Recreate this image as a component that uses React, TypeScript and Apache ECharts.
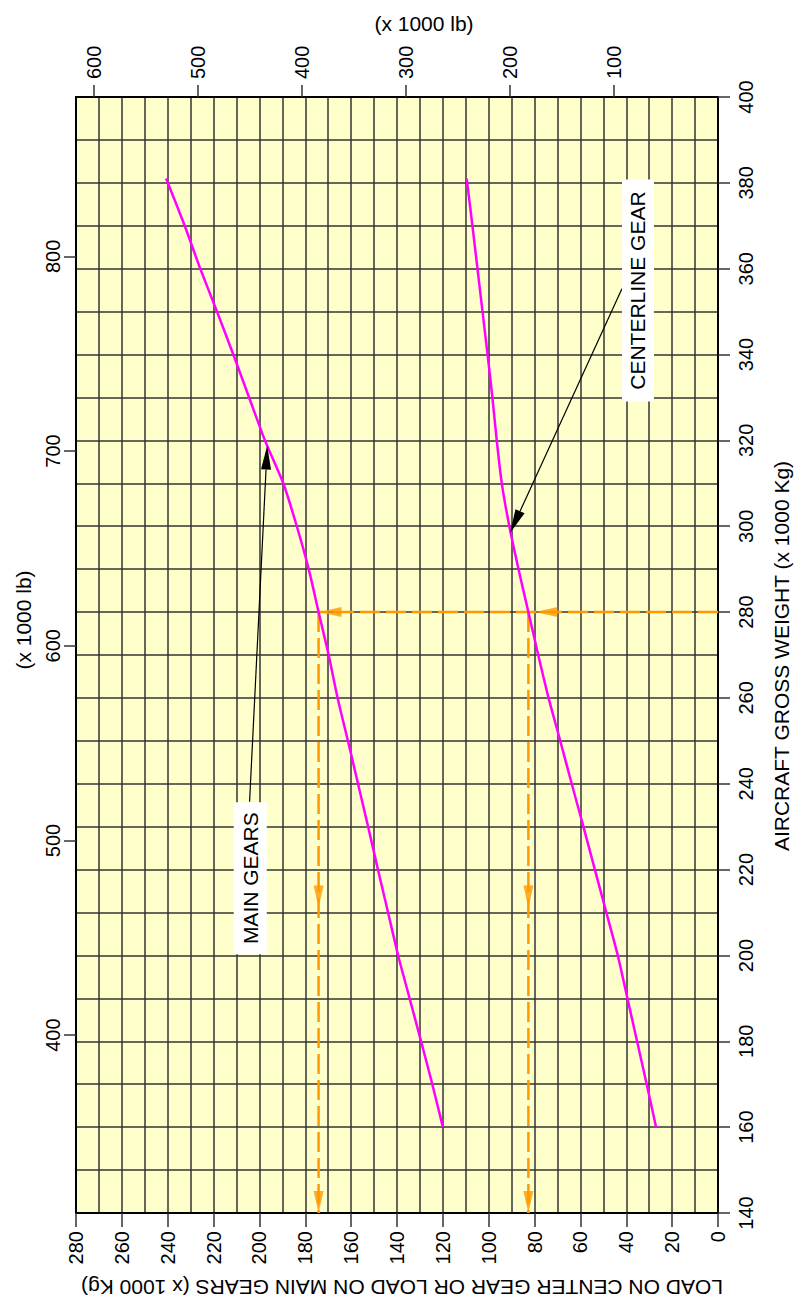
import React, { useEffect, useRef } from "react";
import * as echarts from "echarts";

// ---- data (x 1000 kg) ----
const KG_TO_LB = 2.20462;
const weightKg = [160, 170, 180, 190, 200, 210, 220, 230, 240, 250, 260, 270, 280, 290, 300, 310, 320, 330, 340, 350, 360, 370, 381];
const mainGearLoad = [120, 124.6, 129.5, 134.5, 139.5, 143.9, 148.3, 152.6, 157, 161.4, 165.9, 169.8, 174.2, 178.5, 183.7, 189.6, 197.6, 204.5, 211.4, 218.5, 225.8, 232.6, 240.7];
const centerGearLoad = [27, 31.1, 35.3, 39.5, 43.7, 48.7, 53.7, 58.7, 63.8, 68.8, 73.9, 78.4, 82.7, 87, 91, 94.3, 96.5, 98.4, 100.5, 102.7, 104.9, 107.1, 109.6];

const loadRange = [0, 280];
const weightRange = [140, 400];
const lbLoadTicks = [100, 200, 300, 400, 500, 600];
const lbWeightTicks = [400, 500, 600, 700, 800];

// example reading
const readWeight = 280;
const readMainLoad = 174.2;
const readCenterLoad = 82.7;
const arrowMidWeight = 211.2;

// annotations: [load, weight]
const mainLabelAt = [204, 218];
const centerLabelAt = [34.9, 354.9];
const mainArrow = [[204.3, 235.8], [196.6, 318.8]];
const centerArrow = [[41.9, 355.3], [90.7, 298.4]];

const FONT = '"Liberation Sans", Arial, Helvetica, sans-serif';
const GRIDC = "#333";
const ORANGE = "#FF9900";
const MAGENTA = "#FF00FF";

export default function App() {
  const ref = useRef<HTMLDivElement>(null);
  useEffect(() => {
    if (!ref.current) return;
    const chart = echarts.init(ref.current, null, { renderer: "svg" });
    const labelStyle = { rotate: 90, fontSize: 20, color: "#000", fontFamily: FONT };
    const option: any = {
      animation: false,
      grid: { left: 76, right: 76, top: 97, bottom: 97, show: true, backgroundColor: "#FFFFCC", borderColor: "#000", borderWidth: 2 },
      xAxis: [
        {
          type: "value", position: "bottom", min: loadRange[0], max: loadRange[1], interval: 20, inverse: true,
          axisLine: { show: true, onZero: false, lineStyle: { color: "#000", width: 2 } },
          axisTick: { show: true, length: 14, lineStyle: { color: GRIDC, width: 1.5 } },
          axisLabel: { ...labelStyle, margin: 18 },
          splitLine: { show: true, lineStyle: { color: GRIDC, width: 1.5 } },
          minorTick: { show: false, splitNumber: 2 },
          minorSplitLine: { show: true, lineStyle: { color: GRIDC, width: 1.5 } },
        },
        {
          type: "value", position: "top", min: loadRange[0] * KG_TO_LB, max: loadRange[1] * KG_TO_LB, inverse: true,
          axisLine: { show: true, onZero: false, lineStyle: { color: "#000", width: 2 } },
          axisTick: { show: true, length: 12, customValues: lbLoadTicks, lineStyle: { color: GRIDC, width: 1.5 } },
          axisLabel: { ...labelStyle, rotate: -90, margin: 18, customValues: lbLoadTicks },
          splitLine: { show: false },
        },
      ],
      yAxis: [
        {
          type: "value", position: "right", min: weightRange[0], max: weightRange[1], interval: 20,
          axisLine: { show: true, onZero: false, lineStyle: { color: "#000", width: 2 } },
          axisTick: { show: true, length: 12, lineStyle: { color: GRIDC, width: 1.5 } },
          axisLabel: { ...labelStyle, margin: 18 },
          splitLine: { show: true, lineStyle: { color: GRIDC, width: 1.5 } },
          minorTick: { show: false, splitNumber: 2 },
          minorSplitLine: { show: true, lineStyle: { color: GRIDC, width: 1.5 } },
        },
        {
          type: "value", position: "left", min: weightRange[0] * KG_TO_LB, max: weightRange[1] * KG_TO_LB,
          axisLine: { show: true, onZero: false, lineStyle: { color: "#000", width: 2 } },
          axisTick: { show: true, length: 12, customValues: lbWeightTicks, lineStyle: { color: GRIDC, width: 1.5 } },
          axisLabel: { ...labelStyle, margin: 13, customValues: lbWeightTicks },
          splitLine: { show: false },
        },
      ],
      series: [
        {
          name: "MAIN GEARS", type: "line", xAxisIndex: 0, yAxisIndex: 0, smooth: 0.25, showSymbol: false, z: 5,
          lineStyle: { color: MAGENTA, width: 2.5 },
          data: weightKg.map((w, i) => [mainGearLoad[i], w]),
        },
        {
          name: "CENTERLINE GEAR", type: "line", xAxisIndex: 0, yAxisIndex: 0, smooth: 0.25, showSymbol: false, z: 5,
          lineStyle: { color: MAGENTA, width: 2.5 },
          data: weightKg.map((w, i) => [centerGearLoad[i], w]),
        },
        {
          type: "line", xAxisIndex: 0, yAxisIndex: 0, showSymbol: false, z: 4,
          lineStyle: { color: ORANGE, width: 2.5, type: [20, 6] },
          data: [[loadRange[0], readWeight], [readMainLoad, readWeight]],
        },
        {
          type: "line", xAxisIndex: 0, yAxisIndex: 0, showSymbol: false, z: 4,
          lineStyle: { color: ORANGE, width: 2.5, type: [20, 6] },
          data: [[readMainLoad, readWeight], [readMainLoad, weightRange[0]]],
        },
        {
          type: "line", xAxisIndex: 0, yAxisIndex: 0, showSymbol: false, z: 4,
          lineStyle: { color: ORANGE, width: 2.5, type: [20, 6] },
          data: [[readCenterLoad, readWeight], [readCenterLoad, weightRange[0]]],
        },
        {
          type: "scatter", xAxisIndex: 0, yAxisIndex: 0, symbol: "triangle", symbolSize: [10, 22], z: 6,
          itemStyle: { color: ORANGE },
          data: [
            { value: [readMainLoad, readWeight], symbolRotate: 90, symbolOffset: [12, 0] },
            { value: [readCenterLoad, readWeight], symbolRotate: 90, symbolOffset: [18, 0] },
            { value: [readMainLoad, arrowMidWeight], symbolRotate: 180, symbolOffset: [0, -11] },
            { value: [readCenterLoad, arrowMidWeight], symbolRotate: 180, symbolOffset: [0, -11] },
            { value: [readMainLoad, weightRange[0]], symbolRotate: 180, symbolOffset: [0, -11] },
            { value: [readCenterLoad, weightRange[0]], symbolRotate: 180, symbolOffset: [0, -11] },
          ],
        },
      ],
    };
    chart.setOption(option);

    const px = (p: number[]) => chart.convertToPixel({ xAxisIndex: 0, yAxisIndex: 0 }, p) as number[];
    const arrow = (a: number[][]) => {
      const t0 = px(a[0]);
      const t1 = px(a[1]);
      const dx = t1[0] - t0[0], dy = t1[1] - t0[1];
      const L = Math.hypot(dx, dy);
      const ux = dx / L, uy = dy / L;
      const len = 24, hw = 5;
      const bx = t1[0] - ux * len, by = t1[1] - uy * len;
      return [
        { type: "line", z: 20, shape: { x1: t0[0], y1: t0[1], x2: bx, y2: by }, style: { stroke: "#000", lineWidth: 1.2 } },
        {
          type: "polygon", z: 20,
          shape: { points: [[t1[0], t1[1]], [bx - uy * hw, by + ux * hw], [bx + uy * hw, by - ux * hw]] },
          style: { fill: "#000" },
        },
      ];
    };
    const boxLabel = (at: number[], w: number, h: number, text: string) => {
      const c = px(at);
      return [
        { type: "rect", z: 21, shape: { x: c[0] - w / 2, y: c[1] - h / 2, width: w, height: h }, style: { fill: "#fff" } },
        {
          type: "text", z: 22, x: c[0], y: c[1], rotation: Math.PI / 2,
          style: { text, fill: "#000", font: `21px ${FONT}`, align: "center", verticalAlign: "middle" },
        },
      ];
    };
    const title = (x: number, y: number, rot: number, text: string) => ({
      type: "text", z: 30, x, y, rotation: rot,
      style: { text, fill: "#000", font: `21px ${FONT}`, align: "center", verticalAlign: "middle" },
    });
    chart.setOption({
      graphic: [
        ...arrow(mainArrow),
        ...arrow(centerArrow),
        ...boxLabel(mainLabelAt, 33, 152, "MAIN GEARS"),
        ...boxLabel(centerLabelAt, 32, 222, "CENTERLINE GEAR"),
        title(424, 23, 0, "(x 1000 lb)"),
        title(23, 620, Math.PI / 2, "(x 1000 lb)"),
        title(781, 656, Math.PI / 2, "AIRCRAFT GROSS WEIGHT (x 1000 Kg)"),
        title(402, 1287, Math.PI, "LOAD ON CENTER GEAR OR LOAD ON MAIN GEARS (x 1000 Kg)"),
      ],
    });
    return () => chart.dispose();
  }, []);
  return <div ref={ref} style={{ position: "absolute", left: 0, top: 0, width: 794, height: 1310 }} />;
}
